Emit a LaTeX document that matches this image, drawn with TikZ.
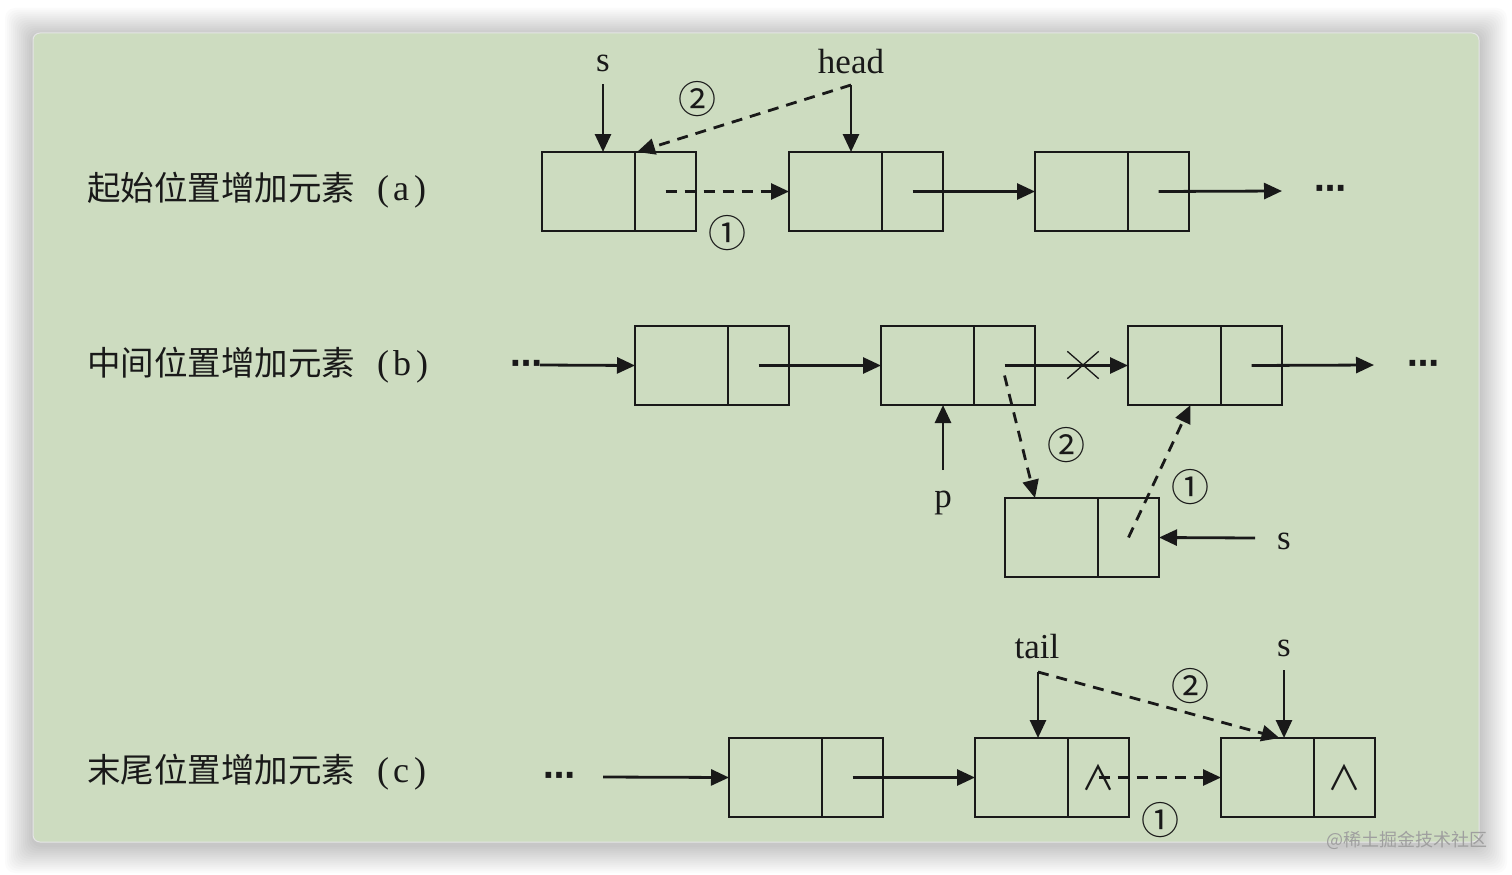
\documentclass[tikz,border=0pt]{standalone}
\usepackage{fontspec}
\setmainfont{Liberation Serif}
\newfontfamily\cjk{Noto Sans CJK SC}
\newfontfamily\dejavu{DejaVu Sans}
\usetikzlibrary{arrows.meta,shapes.misc,calc}
\definecolor{bggreen}{RGB}{205,220,192}
\definecolor{ink}{RGB}{25,25,25}
\newcommand{\paren}[1]{{\rmfamily\fontsize{36}{40}\selectfont\hspace{22pt}(\hspace{4pt}#1\hspace{5pt})}}
\begin{document}
\begin{tikzpicture}[x=1pt,y=-1pt,
  every node/.style={text=ink},
  dcell/.style={draw=ink, line width=2.2pt, minimum width=93pt, minimum height=79pt, inner sep=0pt, outer sep=0pt, anchor=north west},
  pcell/.style={draw=ink, line width=2.2pt, minimum width=61pt, minimum height=79pt, inner sep=0pt, outer sep=0pt, anchor=north west},
  link/.style={draw=ink, line width=2.8pt, -{Triangle[length=18pt,width=16pt]}},
  dlink/.style={link, dash pattern=on 11pt off 8pt},
  lbl/.style={font=\fontsize{35}{40}\selectfont, inner sep=0pt},
  num/.style={font=\cjk\fontsize{38}{40}\selectfont, inner sep=0pt},
  title/.style={font=\cjk\fontsize{33.5}{36}\selectfont, anchor=west, inner sep=0pt},
  dots/.style={font=\dejavu\bfseries\fontsize{32}{36}\selectfont, inner sep=0pt},
  nil/.style={font=\cjk\fontsize{34}{36}\selectfont, inner sep=0pt},
]
\useasboundingbox (0,0) rectangle (1512,875);
\fill[white] (0,0) rectangle (1512,875);
% shadow
\foreach \i in {1,...,14} {
  \fill[black, opacity=0.014, rounded corners=10pt] ({33-2*\i},{33-2*\i+3}) rectangle ({1479+2*\i},{842+2*\i+3});
}
\fill[bggreen, rounded corners=7pt] (33,33) rectangle (1479,842);
\draw[white!80!gray, line width=1pt, rounded corners=7pt] (33,33) rectangle (1479,842);

% titles
\node[title] (ta) at (87,190) {起始位置增加元素\paren{a}};
\node[title] (tb) at (87,365) {中间位置增加元素\paren{b}};
\node[title] (tc) at (87,772) {末尾位置增加元素\paren{c}};

% ---------- (a)
\node[dcell] (a1d) at (542,152) {};
\node[pcell] (a1p) at (a1d.north east) {};
\node[dcell] (a2d) at (789,152) {};
\node[pcell] (a2p) at (a2d.north east) {};
\node[dcell] (a3d) at (1035,152) {};
\node[pcell] (a3p) at (a3d.north east) {};
\node[dots] (adots) at (1330,192) {⋯};
\coordinate (aend) at (1282,191);
\draw[dlink] (a1p.center) -- (a2d.west);
\draw[link] (a2p.center) -- (a3d.west);
\draw[link] (a3p.center) -- (aend);
\node[lbl] (as) at (603,63) {s};
\coordinate (asTop) at (603,84);
\draw[link] (asTop) -- (asTop |- a1d.north);
\node[lbl] (ahead) at (851,62) {head};
\coordinate (ahTop) at (851,85);
\draw[link] (ahTop) -- (ahTop |- a2d.north);
\draw[dlink] (ahTop) -- ($(a1p.north west)+(2,0)$);
\node[num] (an2) at (697,99) {②};
\node[num] (an1) at (727,233) {①};

% ---------- (b)
\node[dcell] (b1d) at (635,326) {};
\node[pcell] (b1p) at (b1d.north east) {};
\node[dcell] (b2d) at (881,326) {};
\node[pcell] (b2p) at (b2d.north east) {};
\node[dcell] (b3d) at (1128,326) {};
\node[pcell] (b3p) at (b3d.north east) {};
\node[dcell] (b4d) at (1005,498) {};
\node[pcell] (b4p) at (b4d.north east) {};
\node[dots] (bldots) at (526,367) {⋯};
\coordinate (bstart) at (540,365);
\draw[link] (bstart) -- (b1d.west);
\draw[link] (b1p.center) -- (b2d.west);
\draw[link] (b2p.center) -- (b3d.west);
\node[draw=ink, cross out, line width=1.3pt, minimum width=30pt, minimum height=26pt, inner sep=0pt] (bx) at (1083,365) {};
\coordinate (bend) at (1374,365);
\draw[link] (b3p.center) -- (bend);
\node[dots] (brdots) at (1423,367) {⋯};
\node[lbl] (bp) at (943,503) {p};
\coordinate (bpTop) at (943,470);
\draw[link] (bpTop) -- (bpTop |- b2d.south);
\draw[dlink] ($(b2p.center)+(0,10)$) -- ($(b4d.north west)+(30,0)$);
\node[num] (bn2) at (1066,445) {②};
\draw[dlink] (b4p.center) -- ($(b3d.south)+(16,0)$);
\node[num] (bn1) at (1190,487) {①};
\node[lbl] (bs) at (1284,541) {s};
\coordinate (bsR) at (1255,538);
\draw[link] (bsR) -- (b4p.east);

% ---------- (c)
\node[dcell] (c1d) at (729,738) {};
\node[pcell] (c1p) at (c1d.north east) {};
\node[dcell] (c2d) at (975,738) {};
\node[pcell] (c2p) at (c2d.north east) {};
\node[dcell] (c3d) at (1221,738) {};
\node[pcell] (c3p) at (c3d.north east) {};
\node[nil] (cn2) at (c2p.center) {∧};
\node[nil] (cn3) at (c3p.center) {∧};
\node[dots] (cdots) at (559,779) {⋯};
\coordinate (cstart) at (603,777);
\draw[link] (cstart) -- (c1d.west);
\draw[link] (c1p.center) -- (c2d.west);
\draw[dlink] (c2p.center) -- (c3d.west);
\node[lbl] (ctail) at (1037,647) {tail};
\coordinate (ctTop) at (1038,672);
\draw[link] (ctTop) -- (ctTop |- c2d.north);
\node[lbl] (cs) at (1284,648) {s};
\coordinate (csTop) at (1284,670);
\draw[link] (csTop) -- (csTop |- c3d.north);
\draw[dlink] (ctTop) -- ($(c3d.north)+(12,0)$);
\node[num] (cn2l) at (1190,686) {②};
\node[num] (cn1l) at (1160,820) {①};

% watermark
\node[font=\cjk\fontsize{18}{20}\selectfont, text=gray!75, anchor=east, inner sep=0pt] (wm) at (1488,840) {@稀土掘金技术社区};
\end{tikzpicture}
\end{document}
